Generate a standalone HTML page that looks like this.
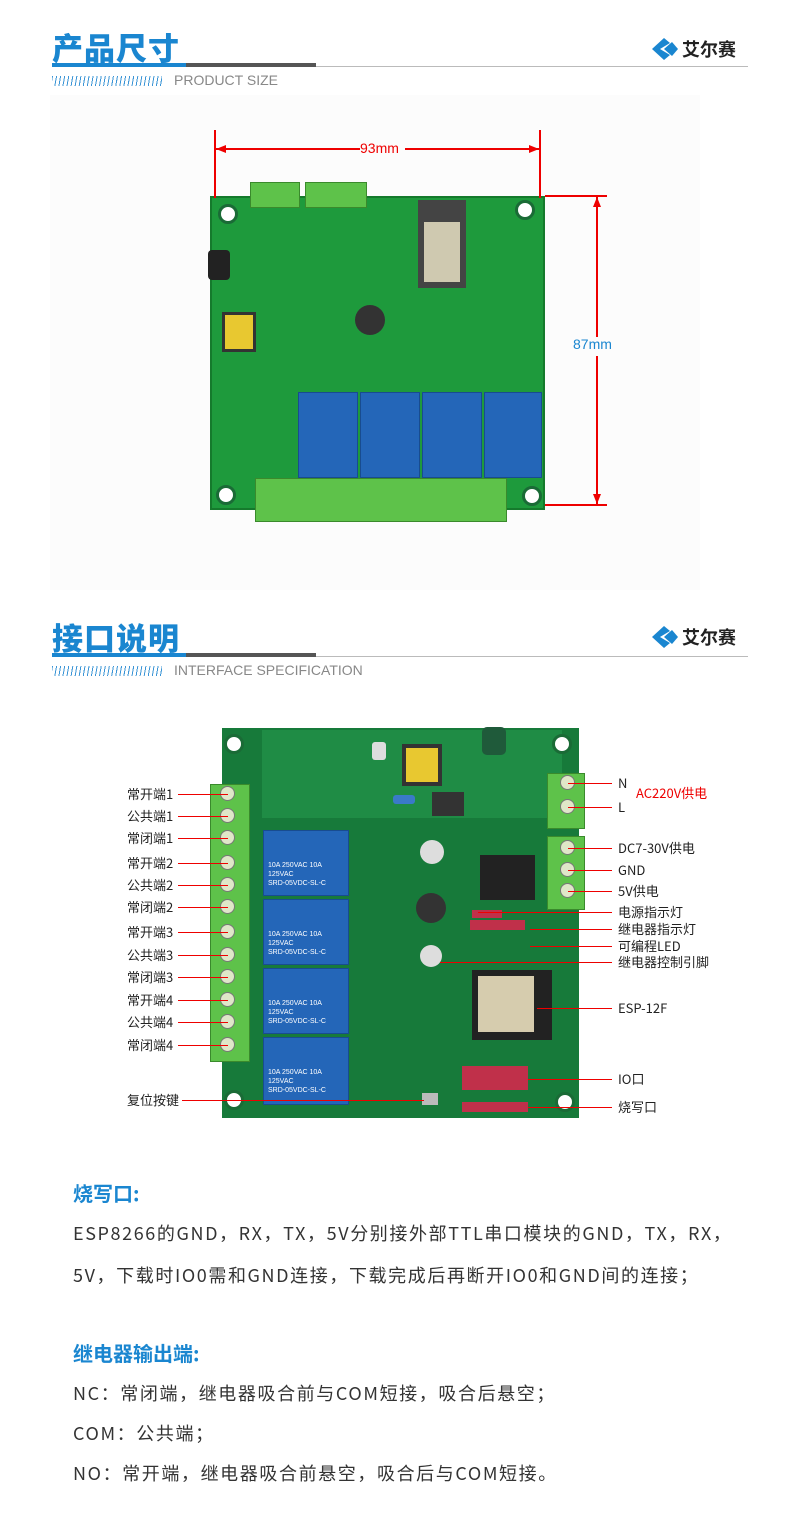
<!DOCTYPE html>
<html><head><meta charset="utf-8">
<style>
*{margin:0;padding:0;box-sizing:border-box}
body{width:790px;height:1517px;background:#fff;position:relative;overflow:hidden;font-family:"Liberation Sans","Noto Sans CJK SC",sans-serif}
.a{position:absolute}
.title{font-size:31px;font-weight:900;color:#1a86d0;letter-spacing:1px;font-family:"Noto Sans CJK SC",sans-serif}
.stripes{background:repeating-linear-gradient(100deg,#3a94d6 0 1px,transparent 1px 4px);height:10px}
.sub{font-size:14px;color:#888}
.logo{font-size:18px;font-weight:bold;color:#222;font-family:"Noto Sans CJK SC",sans-serif}
.red{background:#e00}
.lbl{font-size:13px;color:#222;font-family:"Noto Sans CJK SC",sans-serif;line-height:16px}
.rl{height:1.3px;background:#e00}
.relay{position:absolute;background:#2466b8;border:1px solid #184c90;color:#fff;font-size:7px;padding:3px 4px;line-height:9px}
.term{position:absolute;background:#5ec24a;border:1px solid #3a8a2c}
.screw{position:absolute;width:15px;height:15px;border-radius:50%;background:#dfe7c8;border:1px solid #777}
.hole{position:absolute;width:20px;height:20px;border-radius:50%;background:#fff;border:3px solid #1a6b36}
.txt{font-size:18px;color:#333;font-family:"Noto Sans CJK SC",sans-serif;letter-spacing:1.6px}
.h{font-size:20px;font-weight:bold;color:#1a86d0;font-family:"Noto Sans CJK SC",sans-serif}
</style></head><body>

<!-- Header 1 -->
<div class="a title" style="left:52px;top:24px">产品尺寸</div>
<div class="a" style="left:52px;top:63px;width:134px;height:4px;background:#1a86d0"></div>
<div class="a" style="left:186px;top:63px;width:130px;height:4px;background:#555"></div>
<div class="a" style="left:316px;top:66px;width:432px;height:1px;background:#bbb"></div>
<div class="a stripes" style="left:52px;top:76px;width:110px"></div>
<div class="a sub" style="left:174px;top:72px">PRODUCT SIZE</div>
<svg class="a" style="left:650px;top:36px" width="30" height="26"><polygon points="2,13 14,2 20,7 10,13 20,19 14,24" fill="#1a86d0"/><polygon points="14,13 22,6 28,13 22,20" fill="#1a86d0"/></svg>
<div class="a logo" style="left:682px;top:36px">艾尔赛</div>

<!-- Board 1 -->
<div class="a" style="left:50px;top:95px;width:650px;height:495px;background:#fcfcfc"></div>
<div class="a" style="left:210px;top:196px;width:335px;height:314px;background:#1e9a3c;border:2px solid #157a2c"></div>
<div class="hole" style="left:218px;top:204px"></div>
<div class="hole" style="left:515px;top:200px"></div>
<div class="hole" style="left:216px;top:485px"></div>
<div class="hole" style="left:522px;top:486px"></div>
<div class="term" style="left:250px;top:182px;width:50px;height:26px"></div>
<div class="term" style="left:305px;top:182px;width:62px;height:26px"></div>
<div class="a" style="left:418px;top:200px;width:48px;height:88px;background:#444"></div>
<div class="a" style="left:424px;top:222px;width:36px;height:60px;background:#cfc9b0"></div>
<div class="a" style="left:222px;top:312px;width:34px;height:40px;background:#e8c830;border:3px solid #333"></div>
<div class="a" style="left:208px;top:250px;width:22px;height:30px;background:#222;border-radius:4px"></div>
<div class="a" style="left:355px;top:305px;width:30px;height:30px;background:#333;border-radius:50%"></div>
<div class="relay" style="left:298px;top:392px;width:60px;height:86px"></div>
<div class="relay" style="left:360px;top:392px;width:60px;height:86px"></div>
<div class="relay" style="left:422px;top:392px;width:60px;height:86px"></div>
<div class="relay" style="left:484px;top:392px;width:58px;height:86px"></div>
<div class="term" style="left:255px;top:478px;width:252px;height:44px"></div>
<!-- dimension -->
<div class="a red" style="left:214px;top:130px;width:2px;height:68px"></div>
<div class="a red" style="left:539px;top:130px;width:2px;height:68px"></div>
<div class="a red" style="left:216px;top:148px;width:144px;height:2px"></div>
<div class="a red" style="left:405px;top:148px;width:134px;height:2px"></div>
<svg class="a" style="left:216px;top:143px" width="324" height="12"><polygon points="0,6 10,2 10,10" fill="#e00"/><polygon points="323,6 313,2 313,10" fill="#e00"/></svg>
<div class="a" style="left:360px;top:140px;font-size:14px;color:#e00">93mm</div>
<div class="a red" style="left:545px;top:195px;width:62px;height:2px"></div>
<div class="a red" style="left:545px;top:504px;width:62px;height:2px"></div>
<div class="a red" style="left:596px;top:197px;width:2px;height:140px"></div>
<div class="a red" style="left:596px;top:356px;width:2px;height:148px"></div>
<svg class="a" style="left:591px;top:197px" width="12" height="308"><polygon points="6,0 2,10 10,10" fill="#e00"/><polygon points="6,307 2,297 10,297" fill="#e00"/></svg>
<div class="a" style="left:573px;top:336px;font-size:14px;color:#1a86d0">87mm</div>

<!-- Header 2 -->
<div class="a title" style="left:52px;top:614px">接口说明</div>
<div class="a" style="left:52px;top:653px;width:134px;height:4px;background:#1a86d0"></div>
<div class="a" style="left:186px;top:653px;width:130px;height:4px;background:#555"></div>
<div class="a" style="left:316px;top:656px;width:432px;height:1px;background:#bbb"></div>
<div class="a stripes" style="left:52px;top:666px;width:110px"></div>
<div class="a sub" style="left:174px;top:662px">INTERFACE SPECIFICATION</div>
<svg class="a" style="left:650px;top:624px" width="30" height="26"><polygon points="2,13 14,2 20,7 10,13 20,19 14,24" fill="#1a86d0"/><polygon points="14,13 22,6 28,13 22,20" fill="#1a86d0"/></svg>
<div class="a logo" style="left:682px;top:624px">艾尔赛</div>

<!-- Board 2 -->
<div class="a" style="left:222px;top:728px;width:357px;height:390px;background:#177a3a"></div>
<div class="a" style="left:262px;top:730px;width:300px;height:88px;background:#1f8c45"></div>
<div class="hole" style="left:224px;top:734px"></div>
<div class="hole" style="left:552px;top:734px"></div>
<div class="hole" style="left:224px;top:1090px"></div>
<div class="hole" style="left:555px;top:1092px"></div>
<div class="a" style="left:402px;top:744px;width:40px;height:42px;background:#e8c830;border:4px solid #333"></div>
<div class="a" style="left:482px;top:727px;width:24px;height:28px;background:#1f5a3a;border-radius:5px"></div>
<div class="a" style="left:372px;top:742px;width:14px;height:18px;background:#ddd;border-radius:3px"></div>
<div class="a" style="left:393px;top:795px;width:22px;height:9px;background:#3a7ac8;border-radius:3px"></div>
<div class="a" style="left:432px;top:792px;width:32px;height:24px;background:#333"></div>
<div class="term" style="left:210px;top:784px;width:40px;height:278px"></div>
<div class="term" style="left:547px;top:773px;width:38px;height:56px"></div>
<div class="term" style="left:547px;top:836px;width:38px;height:74px"></div>
<div class="screw" style="left:220px;top:786px"></div><div class="screw" style="left:220px;top:808px"></div><div class="screw" style="left:220px;top:830px"></div>
<div class="screw" style="left:220px;top:855px"></div><div class="screw" style="left:220px;top:877px"></div><div class="screw" style="left:220px;top:899px"></div>
<div class="screw" style="left:220px;top:924px"></div><div class="screw" style="left:220px;top:947px"></div><div class="screw" style="left:220px;top:969px"></div>
<div class="screw" style="left:220px;top:992px"></div><div class="screw" style="left:220px;top:1014px"></div><div class="screw" style="left:220px;top:1037px"></div>
<div class="screw" style="left:560px;top:775px"></div><div class="screw" style="left:560px;top:799px"></div>
<div class="screw" style="left:560px;top:840px"></div><div class="screw" style="left:560px;top:862px"></div><div class="screw" style="left:560px;top:883px"></div>
<div class="relay" style="left:263px;top:830px;width:86px;height:66px"><br><br><br>10A 250VAC 10A 125VAC<br>SRD-05VDC-SL-C</div>
<div class="relay" style="left:263px;top:899px;width:86px;height:66px"><br><br><br>10A 250VAC 10A 125VAC<br>SRD-05VDC-SL-C</div>
<div class="relay" style="left:263px;top:968px;width:86px;height:66px"><br><br><br>10A 250VAC 10A 125VAC<br>SRD-05VDC-SL-C</div>
<div class="relay" style="left:263px;top:1037px;width:86px;height:68px"><br><br><br>10A 250VAC 10A 125VAC<br>SRD-05VDC-SL-C</div>
<div class="a" style="left:480px;top:855px;width:55px;height:45px;background:#222"></div>
<div class="a" style="left:416px;top:893px;width:30px;height:30px;background:#333;border-radius:50%"></div>
<div class="a" style="left:420px;top:840px;width:24px;height:24px;background:#ddd;border-radius:50%"></div>
<div class="a" style="left:420px;top:945px;width:22px;height:22px;background:#ddd;border-radius:50%"></div>
<div class="a" style="left:472px;top:970px;width:80px;height:70px;background:#222"></div>
<div class="a" style="left:478px;top:976px;width:56px;height:56px;background:#d6ccae"></div>
<div class="a" style="left:462px;top:1066px;width:66px;height:24px;background:#c0304a"></div>
<div class="a" style="left:462px;top:1102px;width:66px;height:10px;background:#c0304a"></div>
<div class="a" style="left:470px;top:920px;width:55px;height:10px;background:#c0304a"></div>
<div class="a" style="left:472px;top:910px;width:30px;height:8px;background:#c0304a"></div>
<div class="a" style="left:422px;top:1093px;width:16px;height:12px;background:#bbb"></div>

<!-- left labels -->
<div class="a lbl" style="left:127px;top:786px">常开端1</div><div class="a rl" style="left:178px;top:794px;width:50px"></div>
<div class="a lbl" style="left:127px;top:808px">公共端1</div><div class="a rl" style="left:178px;top:816px;width:50px"></div>
<div class="a lbl" style="left:127px;top:830px">常闭端1</div><div class="a rl" style="left:178px;top:838px;width:50px"></div>
<div class="a lbl" style="left:127px;top:855px">常开端2</div><div class="a rl" style="left:178px;top:863px;width:50px"></div>
<div class="a lbl" style="left:127px;top:877px">公共端2</div><div class="a rl" style="left:178px;top:885px;width:50px"></div>
<div class="a lbl" style="left:127px;top:899px">常闭端2</div><div class="a rl" style="left:178px;top:907px;width:50px"></div>
<div class="a lbl" style="left:127px;top:924px">常开端3</div><div class="a rl" style="left:178px;top:932px;width:50px"></div>
<div class="a lbl" style="left:127px;top:947px">公共端3</div><div class="a rl" style="left:178px;top:955px;width:50px"></div>
<div class="a lbl" style="left:127px;top:969px">常闭端3</div><div class="a rl" style="left:178px;top:977px;width:50px"></div>
<div class="a lbl" style="left:127px;top:992px">常开端4</div><div class="a rl" style="left:178px;top:1000px;width:50px"></div>
<div class="a lbl" style="left:127px;top:1014px">公共端4</div><div class="a rl" style="left:178px;top:1022px;width:50px"></div>
<div class="a lbl" style="left:127px;top:1037px">常闭端4</div><div class="a rl" style="left:178px;top:1045px;width:50px"></div>
<div class="a lbl" style="left:127px;top:1092px">复位按键</div><div class="a rl" style="left:182px;top:1100px;width:242px"></div>

<!-- right labels -->
<div class="a rl" style="left:568px;top:783px;width:44px"></div><div class="a lbl" style="left:618px;top:775px">N</div>
<div class="a rl" style="left:568px;top:807px;width:44px"></div><div class="a lbl" style="left:618px;top:799px">L</div>
<div class="a lbl" style="left:636px;top:785px;color:#e00">AC220V供电</div>
<div class="a rl" style="left:568px;top:848px;width:44px"></div><div class="a lbl" style="left:618px;top:840px">DC7-30V供电</div>
<div class="a rl" style="left:568px;top:870px;width:44px"></div><div class="a lbl" style="left:618px;top:862px">GND</div>
<div class="a rl" style="left:568px;top:891px;width:44px"></div><div class="a lbl" style="left:618px;top:883px">5V供电</div>
<div class="a rl" style="left:478px;top:912px;width:134px"></div><div class="a lbl" style="left:618px;top:904px">电源指示灯</div>
<div class="a rl" style="left:530px;top:929px;width:82px"></div><div class="a lbl" style="left:618px;top:921px">继电器指示灯</div>
<div class="a rl" style="left:530px;top:946px;width:82px"></div><div class="a lbl" style="left:618px;top:938px">可编程LED</div>
<div class="a rl" style="left:440px;top:962px;width:172px"></div><div class="a lbl" style="left:618px;top:954px">继电器控制引脚</div>
<div class="a rl" style="left:537px;top:1008px;width:75px"></div><div class="a lbl" style="left:618px;top:1000px">ESP-12F</div>
<div class="a rl" style="left:528px;top:1079px;width:84px"></div><div class="a lbl" style="left:618px;top:1071px">IO口</div>
<div class="a rl" style="left:528px;top:1107px;width:84px"></div><div class="a lbl" style="left:618px;top:1099px">烧写口</div>

<!-- text -->
<div class="a h" style="left:73px;top:1178px">烧写口:</div>
<div class="a txt" style="left:73px;top:1220px">ESP8266的GND，RX，TX，5V分别接外部TTL串口模块的GND，TX，RX，</div>
<div class="a txt" style="left:73px;top:1262px">5V，下载时IO0需和GND连接，下载完成后再断开IO0和GND间的连接；</div>
<div class="a h" style="left:73px;top:1338px">继电器输出端:</div>
<div class="a txt" style="left:73px;top:1380px">NC：常闭端，继电器吸合前与COM短接，吸合后悬空；</div>
<div class="a txt" style="left:73px;top:1420px">COM：公共端；</div>
<div class="a txt" style="left:73px;top:1460px">NO：常开端，继电器吸合前悬空，吸合后与COM短接。</div>
</body></html>
